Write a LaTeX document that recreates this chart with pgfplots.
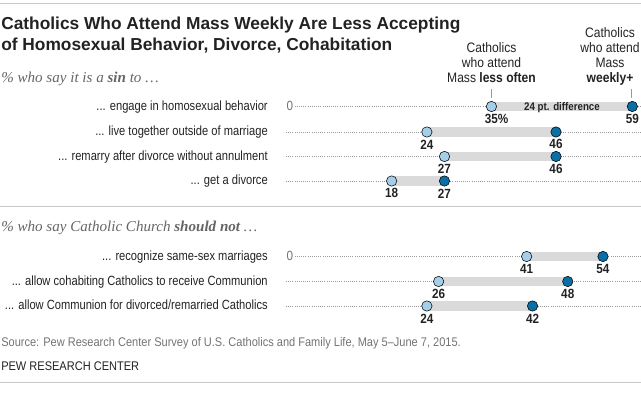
\documentclass[border=0pt]{standalone}
\usepackage{pgfplots}
\pgfplotsset{compat=1.18}
\usepackage{pgfplotstable}
\usepackage{fontspec}
\setmainfont{Liberation Sans}
\newfontfamily\cond[FakeStretch=0.88, Ligatures=TeX]{Liberation Sans}
\newfontfamily\condr[FakeStretch=0.835, Ligatures=TeX]{Liberation Sans}
\newfontfamily\serifit{Liberation Serif}
\definecolor{light}{HTML}{A5CEE8}
\definecolor{dark}{HTML}{0B6FA6}
\definecolor{barc}{HTML}{DADADA}
\definecolor{dotc}{HTML}{9A9A9A}
\definecolor{rulec}{HTML}{C8C8C8}
\definecolor{txt}{HTML}{222222}

\pgfplotstableread{
y less weekly
289.5 35 59
264 24 46
239.5 27 46
215 18 27
139.5 41 54
114.5 26 48
90 24 42
}\data

\pgfplotstableread{
y less
264 24
239.5 27
215 18
139.5 41
114.5 26
90 24
}\lessrest

\begin{document}
\begin{tikzpicture}
\useasboundingbox (0,0) rectangle (480.75pt,297pt);
\begin{axis}[at={(0,0)}, anchor=south west, scale only axis,
  width=480.75pt, height=297pt,
  xmin=-48.72, xmax=60.48, ymin=0, ymax=396,
  hide axis, clip=false,
  /pgf/number format/assume math mode=true,
  numlab/.style={nodes near coords, point meta=x,
    nodes near coords style={font=\cond\bfseries\fontsize{10}{11}\selectfont,
      anchor=center, yshift=-9.3pt, text=txt, inner sep=0pt,
      /pgf/number format/assume math mode=true}},
  dotline/.style={draw=dotc, line width=0.5pt, dash pattern=on 0.5pt off 1.1pt, mark=none, forget plot},
  barline/.style={draw=barc, line width=6.8pt, mark=none, forget plot},
  dotmark/.style={only marks, mark=*, mark size=3.9pt, mark options={draw=white, line width=0.5pt}}
]
% dotted guide lines
\addplot[dotline] coordinates {(1.5,289.5) (60.48,289.5)};
\addplot[dotline] coordinates {(0,264) (60.48,264)};
\addplot[dotline] coordinates {(0,239.5) (60.48,239.5)};
\addplot[dotline] coordinates {(0,215) (60.48,215)};
\addplot[dotline] coordinates {(1.5,139.5) (60.48,139.5)};
\addplot[dotline] coordinates {(0,114.5) (60.48,114.5)};
\addplot[dotline] coordinates {(0,90) (60.48,90)};
% bars
\addplot[barline] coordinates {(35,289.5) (59,289.5)};
\addplot[barline] coordinates {(24,264) (46,264)};
\addplot[barline] coordinates {(27,239.5) (46,239.5)};
\addplot[barline] coordinates {(18,215) (27,215)};
\addplot[barline] coordinates {(41,139.5) (54,139.5)};
\addplot[barline] coordinates {(26,114.5) (48,114.5)};
\addplot[barline] coordinates {(24,90) (42,90)};
% dots
\addplot[dotmark, mark options={fill=light}, numlab, nodes near coords={35\rlap{\%}}] coordinates {(35,289.5)};
\addplot[dotmark, mark options={fill=light}, numlab] table[x=less,y=y] {\lessrest};
\addplot[dotmark, mark options={fill=dark}, numlab] table[x=weekly,y=y] {\data};
\end{axis}
\begin{scope}[shift={(0,297pt)}, x=0.75pt, y=-0.75pt]
% rules
\draw[rulec, line width=0.8pt] (0,3.3) -- (641,3.3);
\draw[rulec, line width=0.8pt] (0,206.7) -- (641,206.7);
\draw[rulec, line width=0.8pt] (0,382.7) -- (641,382.7);
% title
\node[anchor=base west, inner sep=0, text=txt, font=\bfseries\fontsize{13}{15}\selectfont] at (1,30) {Catholics Who Attend Mass Weekly Are Less Accepting};
\node[anchor=base west, inner sep=0, text=txt, font=\bfseries\fontsize{13}{15}\selectfont] at (1,50.5) {of Homosexual Behavior, Divorce, Cohabitation};
% subtitles
\node[anchor=base west, inner sep=0, text=black!60, font=\serifit\itshape\fontsize{11.3}{13}\selectfont] at (1,82.5) {\% who say it is a \textbf{sin} to \dots};
\node[anchor=base west, inner sep=0, text=black!60, font=\serifit\itshape\fontsize{11.3}{13}\selectfont] at (1,231.5) {\% who say Catholic Church \textbf{should not} \dots};
% row labels
\begin{scope}[every node/.style={anchor=mid east, inner sep=0, text=txt, font=\condr\fontsize{10}{12}\selectfont}]
\node at (268,106.5) {... engage in homosexual behavior};
\node at (268,132) {... live together outside of marriage};
\node at (268,156.5) {... remarry after divorce without annulment};
\node at (268,181) {... get a divorce};
\node at (268,256.5) {... recognize same-sex marriages};
\node at (268,281.5) {... allow cohabiting Catholics to receive Communion};
\node at (268,306) {... allow Communion for divorced/remarried Catholics};
\end{scope}
\node[anchor=mid, inner sep=0, text=black!55, font=\cond\fontsize{10}{11}\selectfont] at (290,106.5) {0};
\node[anchor=mid, inner sep=0, text=black!55, font=\cond\fontsize{10}{11}\selectfont] at (290,256.5) {0};
% difference label
\node[anchor=mid, inner sep=0, text=txt, font=\cond\bfseries\fontsize{8.3}{10}\selectfont] at (562,106.5) {24 pt. difference};
% column headers
\node[anchor=south, inner sep=0, align=center, text=txt, font=\cond\fontsize{10.3}{11.25}\selectfont] at (491.5,83) {Catholics\\who attend\\Mass \textbf{less often}};
\node[anchor=south, inner sep=0, align=center, text=txt, font=\cond\fontsize{10.3}{11.25}\selectfont] at (610,85.5) {Catholics\\who attend\\Mass\\\textbf{weekly+}};
\draw[black!40, line width=0.5pt] (491.5,89) -- (491.5,98);
\draw[black!40, line width=0.5pt] (631.5,89) -- (631.5,98);
% source
\node[anchor=base west, inner sep=0, text=black!55, font=\cond\fontsize{9.4}{11}\selectfont] at (1,346.5) {Source: Pew Research Center Survey of U.S. Catholics and Family Life, May 5–June 7, 2015.};
\node[anchor=base west, inner sep=0, text=txt, font=\cond\fontsize{9.4}{11}\selectfont] at (1,370) {PEW RESEARCH CENTER};
\end{scope}
\end{tikzpicture}
\end{document}
